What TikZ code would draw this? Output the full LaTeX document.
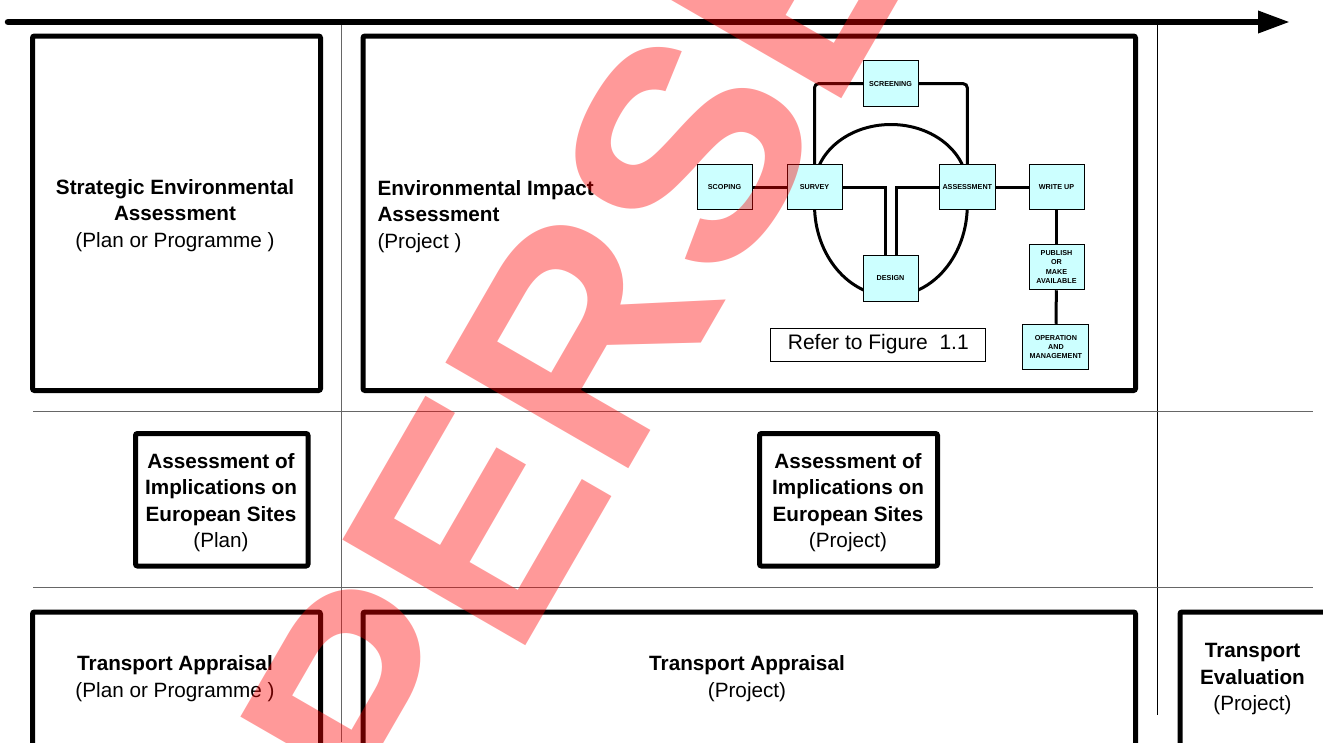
\documentclass[tikz,border=0pt]{standalone}
\usepackage{fontspec}
\setmainfont{Liberation Sans}
\usetikzlibrary{arrows.meta,backgrounds}

\definecolor{stagefill}{RGB}{204,255,255}
\tikzset{
  bigbox/.style={draw, line width=5, rounded corners=2},
  bigtext/.style={font=\fontsize{20.7}{26.5}\selectfont, align=center},
  stagebox/.style={draw=black, line width=1, fill=stagefill, minimum width=55, minimum height=45.5, inner sep=1, font=\fontsize{7.2}{9.4}\selectfont\bfseries, align=center},
  flowline/.style={line width=3},
  gridline/.style={black!60, line width=1},
  watermark/.style={text=red, text opacity=0.4, font=\fontsize{307}{307}\selectfont\bfseries}
}

\begin{document}
\begin{tikzpicture}[x=1pt,y=-1pt]
\useasboundingbox (0,0) rectangle (1323,742);
\clip (0,0) rectangle (1323,742);
\coordinate (timestart) at (8,22);
\coordinate (timeend) at (1290,22);
\draw[gridline] (341.7,22) -- (341.7,742);
\draw[gridline, black] (1157.3,22) -- (1157.3,715);
\draw[gridline] (33,411.7) -- (1312.7,411.7);
\draw[gridline] (33,587.8) -- (1312.7,587.8);
\draw[line width=6.5, line cap=round, -{Triangle[length=32,width=21]}] (timestart) -- (timeend);

\node[bigbox, minimum width=288, minimum height=354.5] (sea) at (176.5,213.25) {};
\node[bigtext] (seatext) at (175,215.5) {\textbf{Strategic Environmental}\\\textbf{Assessment}\\(Plan or Programme )};
\node[bigbox, minimum width=772.5, minimum height=354.5] (eia) at (749.25,213.25) {};
\node[bigtext, align=left, anchor=west] (eiatext) at (374,216.5) {\textbf{Environmental Impact}\\\textbf{Assessment}\\(Project )};

\node[bigbox, minimum width=172.5, minimum height=132.5] (aiesplan) at (221.75,499.75) {};
\node[bigtext] (aiesplantext) at (221,502.75) {\textbf{Assessment of}\\\textbf{Implications on}\\\textbf{European Sites}\\(Plan)};
\node[bigbox, minimum width=178, minimum height=132.5] (aiesproject) at (848.5,499.75) {};
\node[bigtext] (aiesprojecttext) at (848,502.75) {\textbf{Assessment of}\\\textbf{Implications on}\\\textbf{European Sites}\\(Project)};

\node[bigbox, minimum width=288, minimum height=200, anchor=north] (taplan) at (176.5,609.5) {};
\node[bigtext] (taplantext) at (175,678.5) {\textbf{Transport Appraisal}\\(Plan or Programme )};
\node[bigbox, minimum width=772.5, minimum height=200, anchor=north] (taproject) at (749.25,609.5) {};
\node[bigtext] (taprojecttext) at (747,678.5) {\textbf{Transport Appraisal}\\(Project)};
\node[bigbox, minimum width=200, minimum height=200, anchor=north west] (teproject) at (1177.5,609.5) {};
\node[bigtext] (teprojecttext) at (1252.5,679.5) {\textbf{Transport}\\\textbf{Evaluation}\\(Project)};

\node[stagebox] (screening) at (890.5,83.7) {SCREENING};
\node[stagebox] (scoping) at (724.5,187) {SCOPING};
\node[stagebox] (survey) at (814.5,187) {SURVEY};
\node[stagebox, minimum width=56.6] (assess) at (967.3,187) {ASSESSMENT};
\node[stagebox] (writeup) at (1056.5,187) {WRITE UP};
\node[stagebox] (design) at (890.5,278.3) {DESIGN};
\node[stagebox] (publish) at (1056.5,267) {PUBLISH\\OR\\MAKE\\AVAILABLE};
\node[stagebox, minimum width=66] (operation) at (1055.9,347) {OPERATION\\AND\\MANAGEMENT};
\node[draw, line width=0.8, minimum width=215, minimum height=33, inner sep=0, font=\fontsize{21}{21}\selectfont] (refer) at (878.3,344.5) {Refer to Figure\ \ 1.1};

\begin{pgfonlayer}{background}
\draw[flowline] (scoping) -- (survey);
\draw[flowline] (assess) -- (writeup);
\draw[flowline] (writeup) -- (publish);
\draw[flowline] (publish) -- (operation);
\draw[flowline, rounded corners=4] (survey.center) |- (screening.center) -| (assess.center);
\draw[flowline] (survey.center) -| ([xshift=-5.5]design.center);
\draw[flowline] (assess.center) -| ([xshift=5.5]design.center);
\draw[flowline] (survey.center) arc[start angle=180, end angle=360, x radius=76.4, y radius=62.5];
\draw[flowline] (survey.center) -- ++(0,18) arc[start angle=180, end angle=0, x radius=76.4, y radius=91] -- (assess.center);
\end{pgfonlayer}

\node[watermark, rotate=60, anchor=base] (superseded) at (729,294) {SUPERSEDED};
\end{tikzpicture}
\end{document}
